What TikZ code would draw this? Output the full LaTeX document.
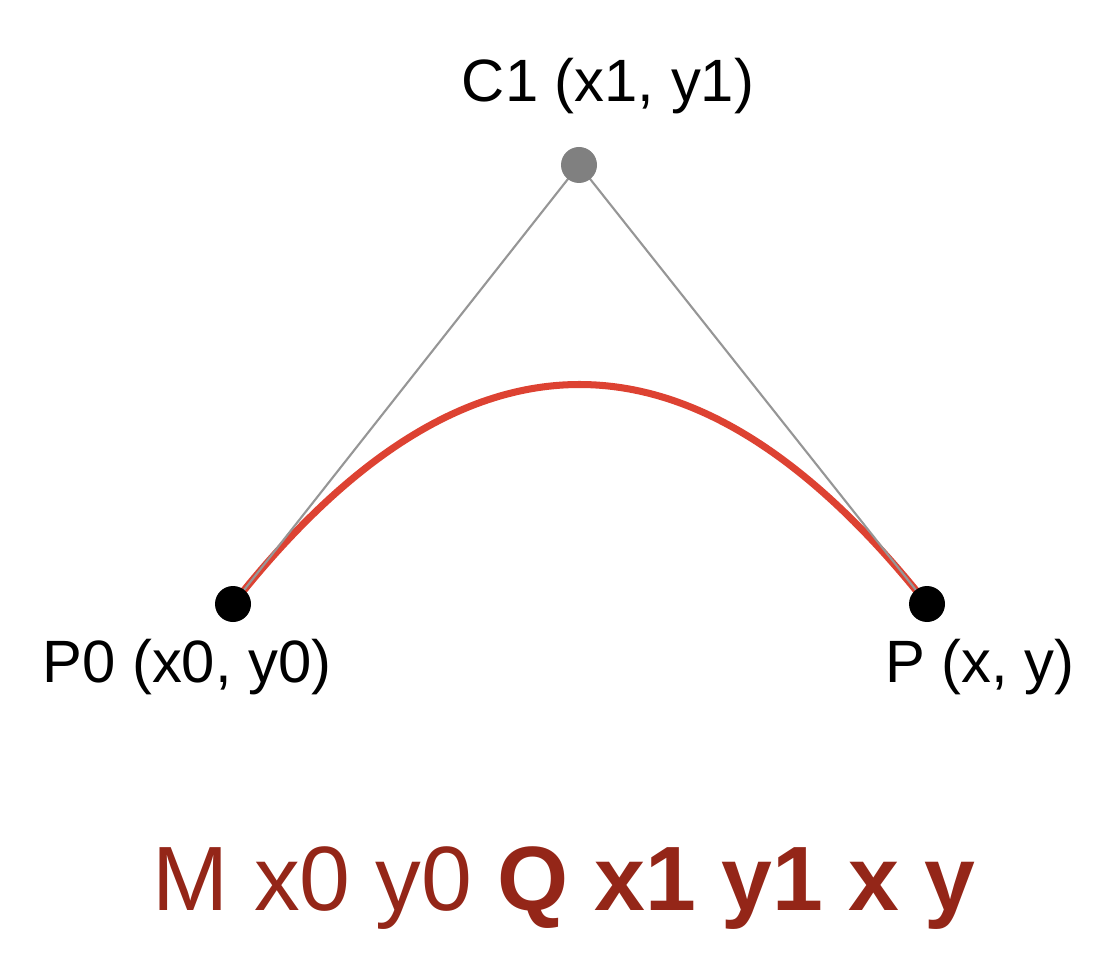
\documentclass[tikz,border=0pt]{standalone}
\usepackage{fontspec}
\setmainfont{Liberation Sans}
\usepackage{tikz}
\usetikzlibrary{positioning, calc}
\definecolor{curvered}{RGB}{221,66,50}
\definecolor{textred}{RGB}{148,38,24}
\definecolor{linegray}{RGB}{150,150,150}
\definecolor{dotgray}{RGB}{128,128,128}

\begin{document}
\begin{tikzpicture}[dot/.style={circle, inner sep=0pt, minimum size=0.36cm}]
                \useasboundingbox (0,0) rectangle (10.98,9.64);
                \coordinate (p0) at (2.33,3.60);
                \coordinate (c1) at (5.79,7.99);
                \coordinate (p) at (9.27,3.60);
                
                \draw[curvered, line width=2pt] (p0) .. controls ($(p0)!2/3!(c1)$) and ($(p)!2/3!(c1)$) .. (p);
                \draw[linegray, line width=0.6pt] (p0) -- (c1);
                \draw[linegray, line width=0.6pt] (c1) -- (p);
                
                \node[dot, fill=black] (p0dot) at (p0) {};
                \node[dot, fill=black] (pdot) at (p) {};
                \node[dot, fill=dotgray] (c1dot) at (c1) {};
                
                \node[anchor=base, font=\fontsize{17}{20}\selectfont] (c1lbl) at (6.08,8.62) {C1 (x1, y1)};
                \node[anchor=base, font=\fontsize{17}{20}\selectfont] (p0lbl) at (1.87,2.82) {P0 (x0, y0)};
                \node[anchor=base, font=\fontsize{17}{20}\selectfont] (plbl) at (9.80,2.82) {P (x, y)};
                \node[anchor=base, textred, font=\fontsize{26}{31}\selectfont] (cmd) at (5.64,0.54) {M x0 y0 \textbf{Q x1 y1 x y}};
            \end{tikzpicture}
\end{document}
